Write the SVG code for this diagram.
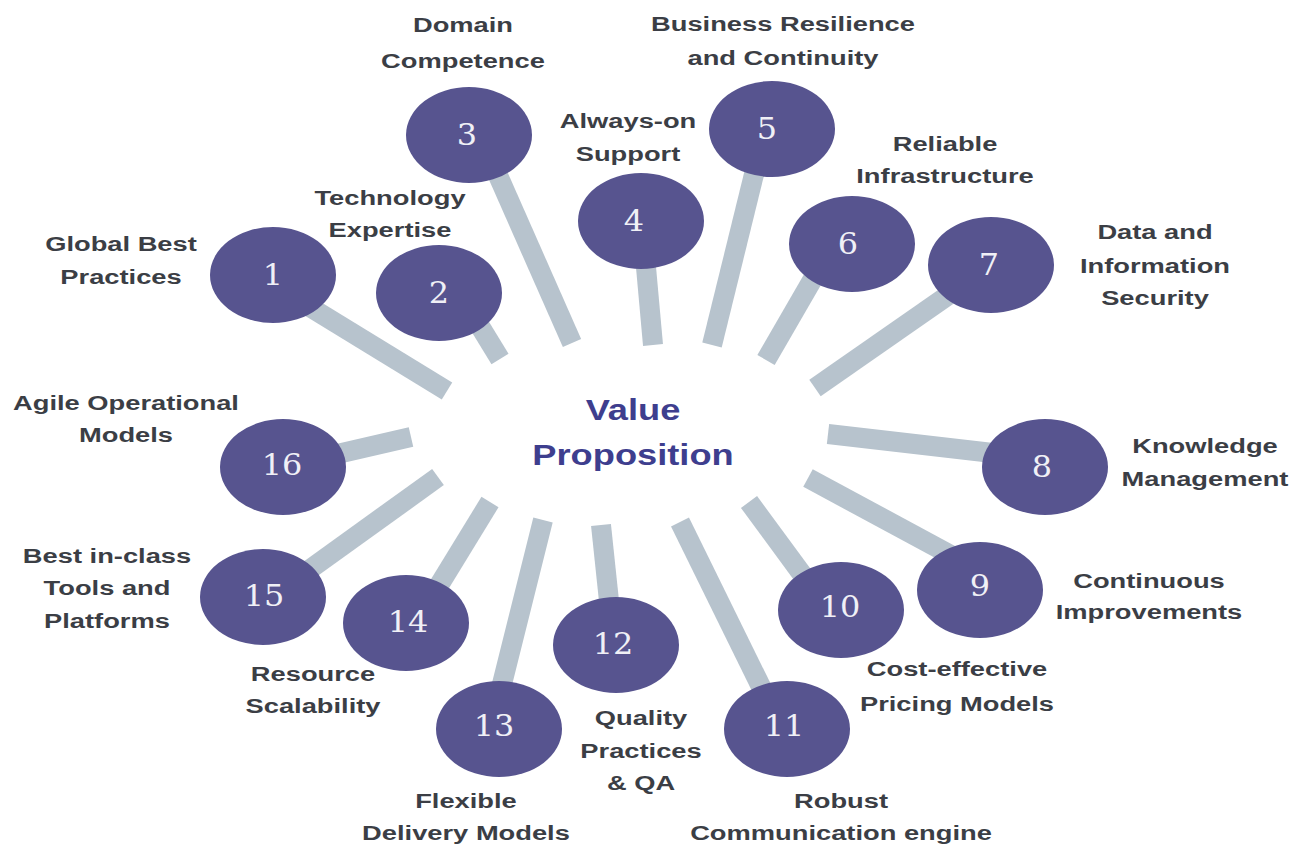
<svg xmlns="http://www.w3.org/2000/svg" width="1306" height="847" viewBox="0 0 1306 847">
<style>
.spoke{stroke:#b7c3cd;stroke-width:20;stroke-linecap:butt;fill:none}
.dot{fill:#57548f}
.num{font-family:"DejaVu Serif","Liberation Serif",serif;font-size:29px;fill:#f0f0f6;text-anchor:middle}
.lbl{font-family:"Liberation Sans",Arial,sans-serif;font-weight:bold;font-size:21px;fill:#3b3e45;text-anchor:middle}
.ctr{font-family:"Liberation Sans",Arial,sans-serif;font-weight:bold;font-size:29px;fill:#3e3e8e;text-anchor:middle}
</style>
<rect width="1306" height="847" fill="#ffffff"/>
<g id="connectors">
<line class="spoke" x1="300" y1="301" x2="447" y2="391"/>
<line class="spoke" x1="470" y1="310" x2="500" y2="359"/>
<line class="spoke" x1="489" y1="155" x2="572" y2="343"/>
<line class="spoke" x1="644" y1="245" x2="653" y2="345"/>
<line class="spoke" x1="760" y1="150" x2="712" y2="345"/>
<line class="spoke" x1="825" y1="258" x2="766" y2="360"/>
<line class="spoke" x1="960" y1="287" x2="815" y2="388"/>
<line class="spoke" x1="1010" y1="455" x2="828" y2="434"/>
<line class="spoke" x1="960" y1="560" x2="808" y2="478"/>
<line class="spoke" x1="810" y1="585" x2="749" y2="502"/>
<line class="spoke" x1="770" y1="705" x2="680" y2="522"/>
<line class="spoke" x1="611" y1="620" x2="601" y2="525"/>
<line class="spoke" x1="498" y1="700" x2="543" y2="520"/>
<line class="spoke" x1="430" y1="600" x2="490" y2="502"/>
<line class="spoke" x1="295" y1="580" x2="438" y2="477"/>
<line class="spoke" x1="320" y1="458" x2="411" y2="437"/>
</g>
<g id="center">
<g transform="translate(633 0) scale(1.25 1)"><text class="ctr" x="0" y="420">Value</text><text class="ctr" x="0" y="465">Proposition</text></g>
</g>
<g id="n1"><ellipse class="dot" cx="273" cy="275" rx="63" ry="48"/><g transform="translate(273 0) scale(1.1 1)"><text class="num" x="0" y="285">1</text></g>
<g transform="translate(121 0) scale(1.3 1)"><text class="lbl" x="0" y="251">Global Best</text><text class="lbl" x="0" y="284">Practices</text></g></g>
<g id="n2"><ellipse class="dot" cx="439" cy="293" rx="63" ry="48"/><g transform="translate(439 0) scale(1.1 1)"><text class="num" x="0" y="303">2</text></g>
<g transform="translate(390 0) scale(1.3 1)"><text class="lbl" x="0" y="205">Technology</text><text class="lbl" x="0" y="237">Expertise</text></g></g>
<g id="n3"><ellipse class="dot" cx="469" cy="135" rx="63" ry="48"/><g transform="translate(467 0) scale(1.1 1)"><text class="num" x="0" y="145">3</text></g>
<g transform="translate(463 0) scale(1.3 1)"><text class="lbl" x="0" y="32">Domain</text><text class="lbl" x="0" y="68">Competence</text></g></g>
<g id="n4"><ellipse class="dot" cx="641" cy="221" rx="63" ry="48"/><g transform="translate(634 0) scale(1.1 1)"><text class="num" x="0" y="231">4</text></g>
<g transform="translate(628 0) scale(1.3 1)"><text class="lbl" x="0" y="128">Always-on</text><text class="lbl" x="0" y="161">Support</text></g></g>
<g id="n5"><ellipse class="dot" cx="772" cy="129" rx="63" ry="48"/><g transform="translate(767 0) scale(1.1 1)"><text class="num" x="0" y="139">5</text></g>
<g transform="translate(783 0) scale(1.3 1)"><text class="lbl" x="0" y="31">Business Resilience</text><text class="lbl" x="0" y="65">and Continuity</text></g></g>
<g id="n6"><ellipse class="dot" cx="852" cy="244" rx="63" ry="48"/><g transform="translate(848 0) scale(1.1 1)"><text class="num" x="0" y="254">6</text></g>
<g transform="translate(945 0) scale(1.3 1)"><text class="lbl" x="0" y="151">Reliable</text><text class="lbl" x="0" y="183">Infrastructure</text></g></g>
<g id="n7"><ellipse class="dot" cx="991" cy="265" rx="63" ry="48"/><g transform="translate(989 0) scale(1.1 1)"><text class="num" x="0" y="275">7</text></g>
<g transform="translate(1155 0) scale(1.3 1)"><text class="lbl" x="0" y="239">Data and</text><text class="lbl" x="0" y="273">Information</text><text class="lbl" x="0" y="305">Security</text></g></g>
<g id="n8"><ellipse class="dot" cx="1045" cy="467" rx="63" ry="48"/><g transform="translate(1042 0) scale(1.1 1)"><text class="num" x="0" y="477">8</text></g>
<g transform="translate(1205 0) scale(1.3 1)"><text class="lbl" x="0" y="453">Knowledge</text><text class="lbl" x="0" y="486">Management</text></g></g>
<g id="n9"><ellipse class="dot" cx="980" cy="590" rx="63" ry="48"/><g transform="translate(980 0) scale(1.1 1)"><text class="num" x="0" y="596">9</text></g>
<g transform="translate(1149 0) scale(1.3 1)"><text class="lbl" x="0" y="588">Continuous</text><text class="lbl" x="0" y="619">Improvements</text></g></g>
<g id="n10"><ellipse class="dot" cx="841" cy="610" rx="63" ry="48"/><g transform="translate(840 0) scale(1.1 1)"><text class="num" x="0" y="617">10</text></g>
<g transform="translate(957 0) scale(1.3 1)"><text class="lbl" x="0" y="676">Cost-effective</text><text class="lbl" x="0" y="711">Pricing Models</text></g></g>
<g id="n11"><ellipse class="dot" cx="787" cy="729" rx="63" ry="48"/><g transform="translate(784 0) scale(1.1 1)"><text class="num" x="0" y="736">11</text></g>
<g transform="translate(841 0) scale(1.3 1)"><text class="lbl" x="0" y="808">Robust</text><text class="lbl" x="0" y="840">Communication engine</text></g></g>
<g id="n12"><ellipse class="dot" cx="616" cy="645" rx="63" ry="48"/><g transform="translate(613 0) scale(1.1 1)"><text class="num" x="0" y="654">12</text></g>
<g transform="translate(641 0) scale(1.3 1)"><text class="lbl" x="0" y="725">Quality</text><text class="lbl" x="0" y="758">Practices</text><text class="lbl" x="0" y="790">&amp; QA</text></g></g>
<g id="n13"><ellipse class="dot" cx="499" cy="729" rx="63" ry="48"/><g transform="translate(494 0) scale(1.1 1)"><text class="num" x="0" y="736">13</text></g>
<g transform="translate(466 0) scale(1.3 1)"><text class="lbl" x="0" y="808">Flexible</text><text class="lbl" x="0" y="840">Delivery Models</text></g></g>
<g id="n14"><ellipse class="dot" cx="406" cy="623" rx="63" ry="48"/><g transform="translate(408 0) scale(1.1 1)"><text class="num" x="0" y="632">14</text></g>
<g transform="translate(313 0) scale(1.3 1)"><text class="lbl" x="0" y="681">Resource</text><text class="lbl" x="0" y="713">Scalability</text></g></g>
<g id="n15"><ellipse class="dot" cx="263" cy="597" rx="63" ry="48"/><g transform="translate(264 0) scale(1.1 1)"><text class="num" x="0" y="606">15</text></g>
<g transform="translate(107 0) scale(1.3 1)"><text class="lbl" x="0" y="563">Best in-class</text><text class="lbl" x="0" y="595">Tools and</text><text class="lbl" x="0" y="628">Platforms</text></g></g>
<g id="n16"><ellipse class="dot" cx="283" cy="467" rx="63" ry="48"/><g transform="translate(282 0) scale(1.1 1)"><text class="num" x="0" y="475">16</text></g>
<g transform="translate(126 0) scale(1.3 1)"><text class="lbl" x="0" y="410">Agile Operational</text><text class="lbl" x="0" y="442">Models</text></g></g>
</svg>
